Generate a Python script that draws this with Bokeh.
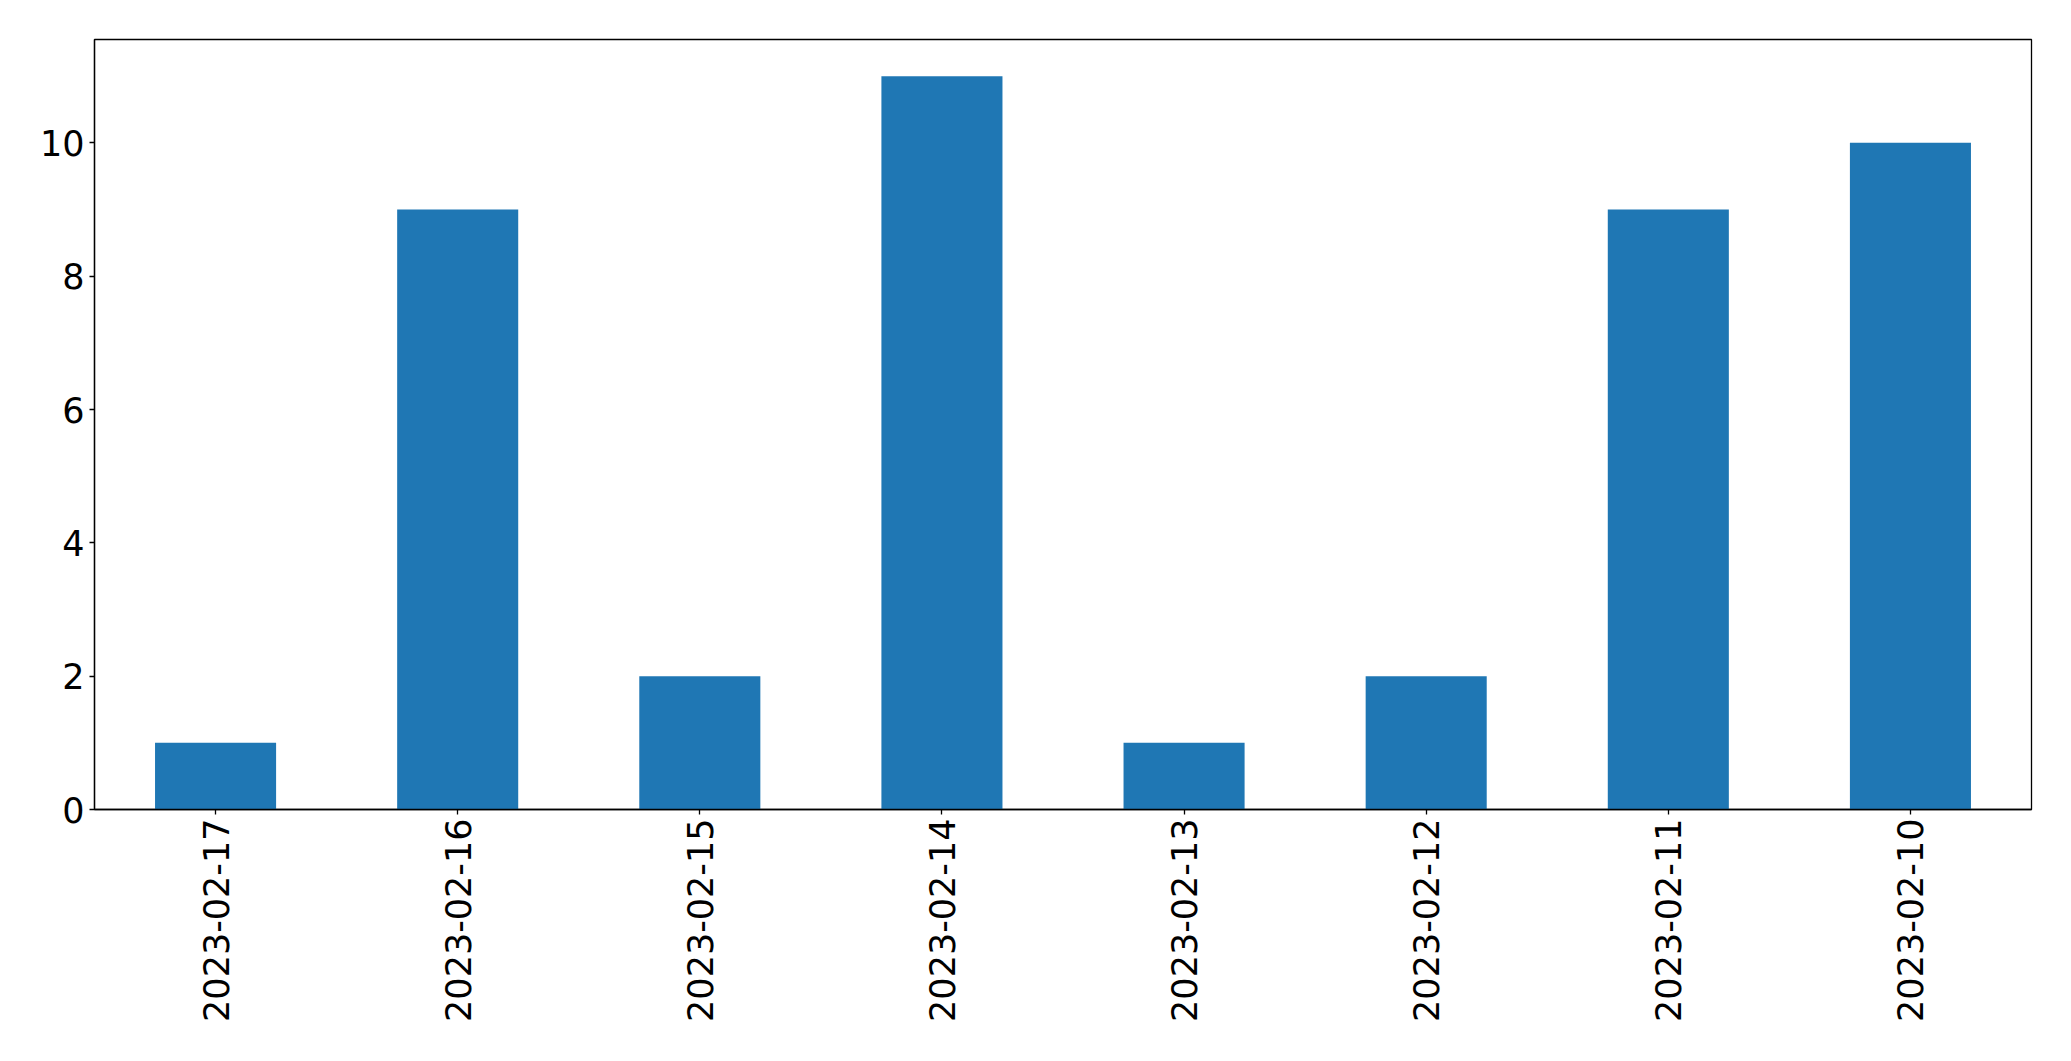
import math
from bokeh.plotting import figure
from bokeh.models import FactorRange, Range1d, SingleIntervalTicker, ColumnDataSource
from bokeh.embed import file_html
from bokeh.resources import INLINE

dates = ["2023-02-17", "2023-02-16", "2023-02-15", "2023-02-14",
         "2023-02-13", "2023-02-12", "2023-02-11", "2023-02-10"]
counts = [1, 9, 2, 11, 1, 2, 9, 10]

source = ColumnDataSource(data=dict(date=dates, count=counts))

p = figure(
    x_range=FactorRange(*dates, range_padding=0),
    y_range=Range1d(0, 11.55),
    frame_width=1937, frame_height=770,
    min_border_left=94, min_border_top=39, min_border_right=32, min_border_bottom=236,
    output_backend="svg", toolbar_location=None,
)
p.vbar(x="date", top="count", width=0.5, bottom=0, source=source,
       fill_color="#1f77b4", line_color=None)

p.xgrid.visible = False
p.ygrid.visible = False
p.outline_line_color = "black"
p.outline_line_width = 1.3
p.outline_line_alpha = 1

p.yaxis.ticker = SingleIntervalTicker(interval=2)
p.yaxis.minor_tick_line_color = None

for ax in (p.xaxis, p.yaxis):
    ax.axis_line_color = "black"
    ax.axis_line_width = 1.3
    ax.major_tick_line_color = "black"
    ax.major_tick_line_width = 1.3
    ax.major_tick_in = 0
    ax.major_tick_out = 5
    ax.major_label_text_font = "DejaVu Sans"
    ax.major_label_text_color = "black"
    ax.major_label_text_font_size = "35px"

p.yaxis.major_label_standoff = 5
p.xaxis.major_label_standoff = 4
p.xaxis.major_label_orientation = math.pi / 2
p.xaxis.group_text_font_size = "0px"

open("out.html", "w").write(file_html(p, INLINE))
